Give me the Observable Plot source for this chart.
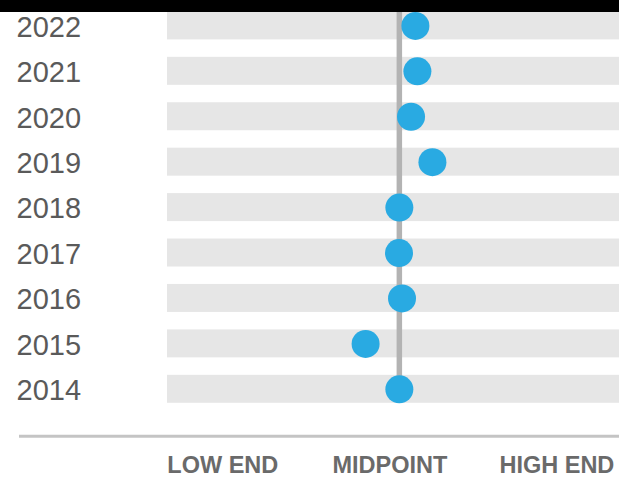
<!DOCTYPE html>
<html>
<head>
<meta charset="utf-8">
<script src="https://cdn.jsdelivr.net/npm/d3@7"></script>
<script src="https://cdn.jsdelivr.net/npm/@observablehq/plot@0.6"></script>
<style>
  html, body { margin: 0; padding: 0; background: #fff; overflow: hidden; }
  #wrap { position: relative; width: 619px; height: 478px; }
  #topbar { position: absolute; left: 0; top: 0; width: 619px; height: 12px; background: #000; z-index: 2; }
</style>
</head>
<body>
<div id="wrap"><div id="topbar"></div></div>
<script>
// Data
const years = [2022, 2021, 2020, 2019, 2018, 2017, 2016, 2015, 2014];
const positions = [54.8, 55.4, 53.5, 59.9, 50.0, 49.9, 50.8, 39.9, 50.0]; // 0 = low end, 50 = midpoint, 100 = high end
const tickValues = [0, 50, 100];
const tickLabels = ["LOW END", "MIDPOINT", "HIGH END"];
const midpoint = 50;
const xDomain = [-19.4, 115.9];

const data = years.map((year, i) => ({year, position: positions[i]}));

const chart = Plot.plot({
  width: 619,
  height: 478,
  marginTop: 11.4,
  marginBottom: 75.2,
  marginLeft: 167,
  marginRight: 0,
  style: {fontFamily: "'Liberation Sans', Arial, Helvetica, sans-serif", background: "transparent"},
  x: {domain: xDomain},
  y: {domain: years, paddingInner: 0.384, paddingOuter: 0, round: false},
  marks: [
    Plot.barX(years, {y: d => d, x1: xDomain[0], x2: xDomain[1], fill: "#e6e6e6"}),
    Plot.ruleX([midpoint], {stroke: "#b3b3b3", strokeWidth: 5.5}),
    Plot.dot(data, {x: "position", y: "year", r: 14, fill: "#29aae2", stroke: "none"}),
    Plot.frame({anchor: "bottom", dy: 33, insetLeft: -147, stroke: "#c4c4c4", strokeWidth: 3}),
    Plot.axisY({tickSize: 0, tickFormat: d => String(d), textAnchor: "start", dx: -142, dy: 1.5, fontSize: 29, fill: "#5a5a5a", label: null}),
    Plot.axisX({ticks: tickValues, tickFormat: (d, i) => tickLabels[i], tickSize: 0, tickPadding: 53, dx: -9.5,
                fontSize: 23.5, fontWeight: "bold", fill: "#6a6a6a", label: null})
  ]
});
document.getElementById("wrap").appendChild(chart);
</script>
</body>
</html>
